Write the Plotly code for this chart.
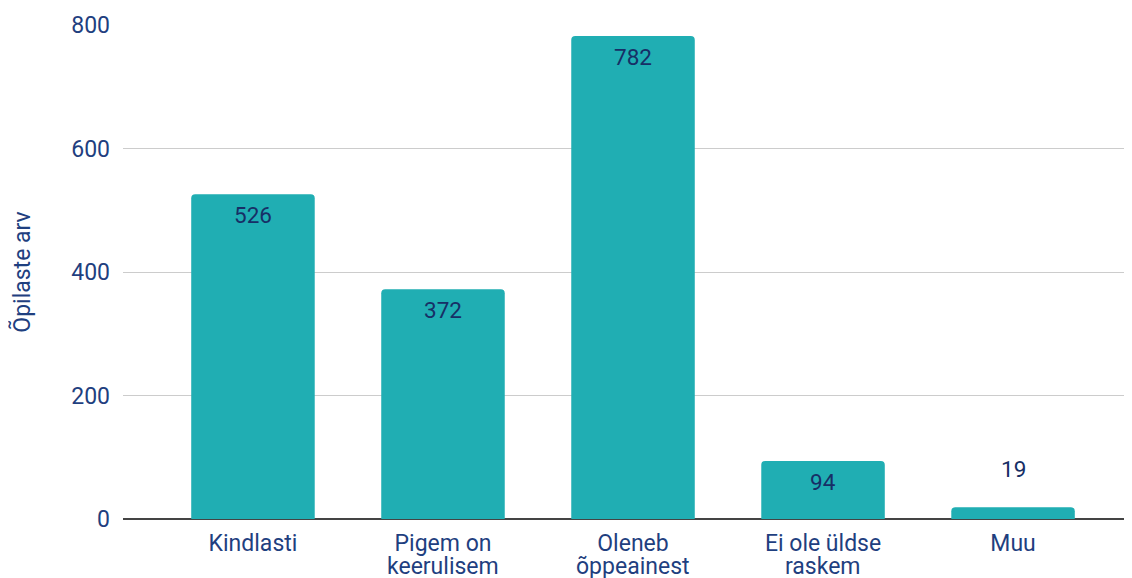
import plotly.graph_objects as go

categories = ["Kindlasti", "Pigem on<br>keerulisem", "Oleneb<br>õppeainest", "Ei ole üldse<br>raskem", "Muu"]
values = [526, 372, 782, 94, 19]
y_ticks = [0, 200, 400, 600, 800]

BAR = "#20aeb3"
TXT = "#1f3f7f"
LBL = "#172f66"
FONT = "Roboto"

first_lines = [c.split("<br>")[0] for c in categories]
second_lines = [c.split("<br>")[1] if "<br>" in c else "" for c in categories]

fig = go.Figure()
fig.add_trace(go.Bar(
    x=categories, y=values,
    marker=dict(color=BAR, cornerradius=4, line=dict(width=0)),
    cliponaxis=False, hoverinfo="skip",
))

for c, v in zip(categories, values):
    if v > 60:
        fig.add_annotation(x=c, y=v, text=str(v), showarrow=False, yanchor="top",
                           yshift=-6, font=dict(family=FONT, size=22.5, color=LBL))
    else:
        fig.add_annotation(x=c, y=v, text=str(v), showarrow=False, yanchor="bottom",
                           yshift=23, font=dict(family=FONT, size=22.5, color=LBL))

for c, s in zip(categories, second_lines):
    if s:
        fig.add_annotation(x=c, xref="x", y=0, yref="paper", text=s, showarrow=False,
                           yanchor="middle", yshift=-47,
                           font=dict(family=FONT, size=23, color=TXT))

fig.update_layout(
    width=1132, height=578,
    margin=dict(l=115, r=8, t=17, b=67),
    paper_bgcolor="white", plot_bgcolor="white",
    bargap=0.35, showlegend=False,
    font=dict(family=FONT, size=23, color=TXT),
)
fig.update_xaxes(
    range=[-0.684, 4.626], showgrid=False, ticks="", showline=False,
    tickvals=categories, ticktext=first_lines,
    ticklabelstandoff=8, automargin=False,
    tickfont=dict(family=FONT, size=23, color=TXT),
)
fig.update_yaxes(
    range=[0, 800], tickvals=y_ticks, showgrid=True, gridcolor="#cccccc", gridwidth=1,
    zeroline=True, zerolinecolor="#444444", zerolinewidth=1.5,
    ticks="", ticklabelstandoff=12, automargin=False,
    tickfont=dict(family=FONT, size=23, color=TXT),
    title=dict(text="Õpilaste arv", font=dict(family=FONT, size=23, color=TXT), standoff=36),
)

fig.write_html("out.html")
